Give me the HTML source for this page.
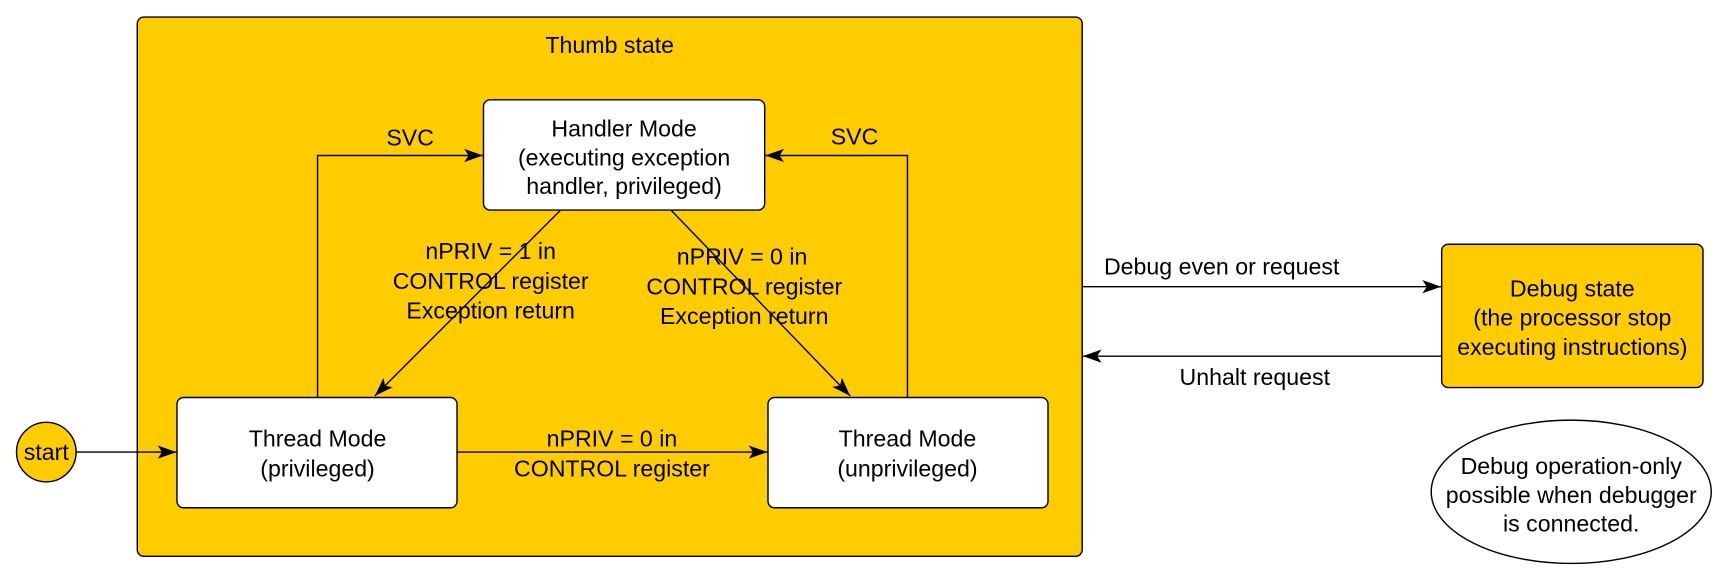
<!DOCTYPE html>
<html><head><meta charset="utf-8"><style>
html,body{margin:0;padding:0;background:#fff;width:1730px;height:580px;overflow:hidden}
svg{display:block}
text{font-family:"Liberation Sans",Arial,sans-serif;font-size:21px;fill:#000;text-anchor:middle}
</style></head><body>
<svg width="1730" height="580" viewBox="0 0 1569 526" preserveAspectRatio="none" xmlns="http://www.w3.org/2000/svg">
<defs>
<marker id="a" markerWidth="18" markerHeight="12" refX="17" refY="6" orient="auto" markerUnits="userSpaceOnUse">
<path d="M0,0 L17,6 L0,12 L4,6 Z" fill="#000"/>
</marker>
</defs>
<rect x="124.5" y="15.5" width="857" height="489" rx="6" fill="#FFCC00" stroke="#000" stroke-width="1.3"/>
<text x="553" y="48">Thumb state</text>

<rect x="438.5" y="90.5" width="255" height="100" rx="6" fill="#fff" stroke="#000" stroke-width="1.3"/>
<text x="566" y="124">Handler Mode</text>
<text x="566" y="150">(executing exception</text>
<text x="566" y="176">handler, privileged)</text>

<rect x="160.5" y="360.5" width="254" height="100" rx="6" fill="#fff" stroke="#000" stroke-width="1.3"/>
<text x="288" y="405">Thread Mode</text>
<text x="288" y="432">(privileged)</text>

<rect x="696.5" y="360.5" width="254" height="100" rx="6" fill="#fff" stroke="#000" stroke-width="1.3"/>
<text x="823" y="405">Thread Mode</text>
<text x="823" y="432">(unprivileged)</text>

<circle cx="42" cy="410" r="27" fill="#FFCC00" stroke="#000" stroke-width="1.3"/>
<text x="42" y="417">start</text>
<line x1="69" y1="410" x2="160" y2="410" stroke="#000" stroke-width="1.3" marker-end="url(#a)"/>

<line x1="415" y1="410" x2="696" y2="410" stroke="#000" stroke-width="1.3" marker-end="url(#a)"/>
<text x="555" y="405">nPRIV = 0 in</text>
<text x="555" y="432">CONTROL register</text>

<polyline points="288,360 288,141 438,141" fill="none" stroke="#000" stroke-width="1.3" marker-end="url(#a)"/>
<text x="372" y="132">SVC</text>
<polyline points="823,360 823,141 694,141" fill="none" stroke="#000" stroke-width="1.3" marker-end="url(#a)"/>
<text x="775" y="131">SVC</text>

<line x1="508" y1="191" x2="340" y2="359" stroke="#000" stroke-width="1.3" marker-end="url(#a)"/>
<text x="445" y="235">nPRIV = 1 in</text>
<text x="445" y="262">CONTROL register</text>
<text x="445" y="289">Exception return</text>

<line x1="609" y1="191" x2="771" y2="359" stroke="#000" stroke-width="1.3" marker-end="url(#a)"/>
<text x="673" y="240">nPRIV = 0 in</text>
<text x="675" y="267">CONTROL register</text>
<text x="675" y="294">Exception return</text>

<line x1="982" y1="260" x2="1307" y2="260" stroke="#000" stroke-width="1.3" marker-end="url(#a)"/>
<text x="1108" y="249">Debug even or request</text>
<line x1="1307" y1="323" x2="982" y2="323" stroke="#000" stroke-width="1.3" marker-end="url(#a)"/>
<text x="1138" y="349">Unhalt request</text>

<rect x="1307.5" y="221.5" width="237" height="130" rx="6" fill="#FFCC00" stroke="#000" stroke-width="1.3"/>
<text x="1426" y="269">Debug state</text>
<text x="1426" y="295">(the processor stop</text>
<text x="1426" y="322">executing instructions)</text>

<ellipse cx="1425" cy="446" rx="127" ry="65" fill="#fff" stroke="#000" stroke-width="1.3"/>
<text x="1425" y="430" font-size="20">Debug operation-only</text>
<text x="1425" y="456" font-size="20">possible when debugger</text>
<text x="1425" y="482" font-size="20">is connected.</text>
</svg>
</body></html>
